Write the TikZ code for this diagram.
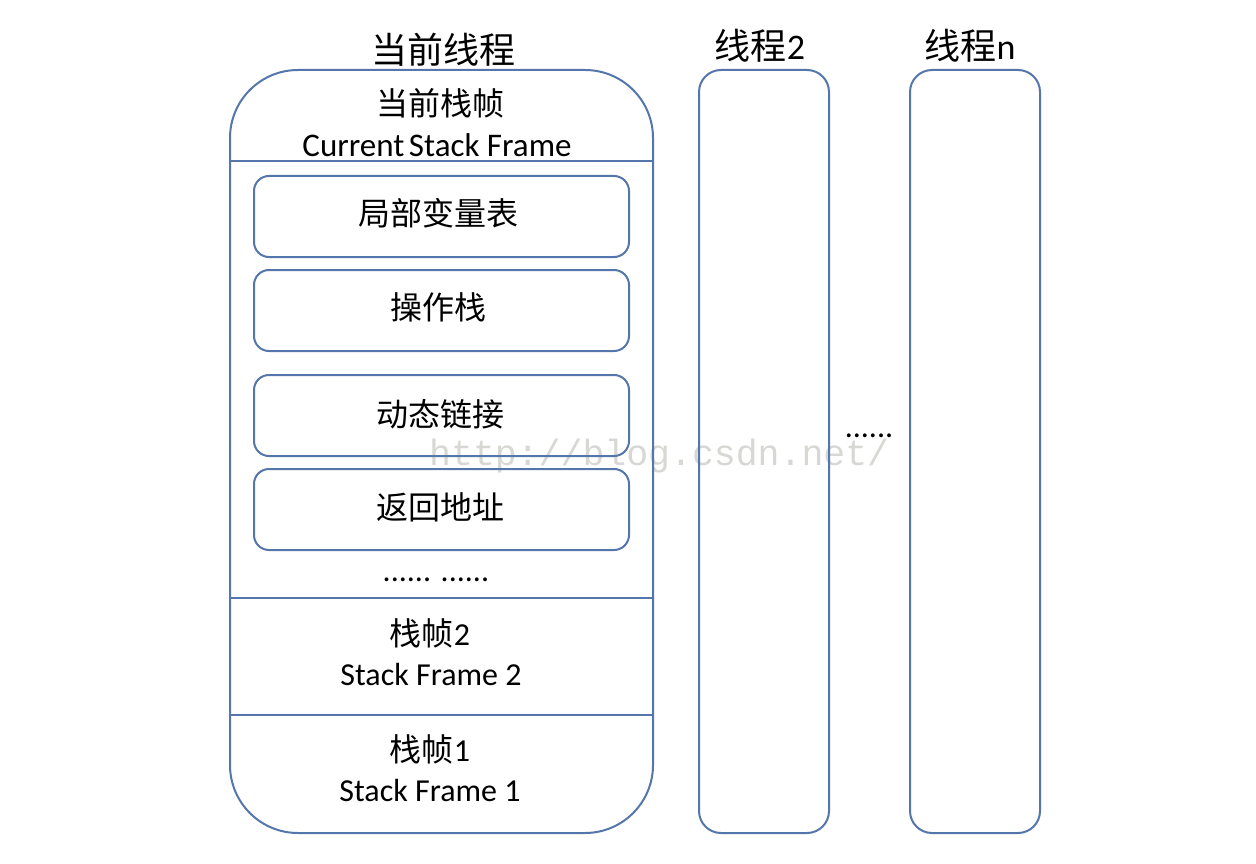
\documentclass[tikz,border=0pt]{standalone}
\usepackage{fontspec}
\setmainfont{Carlito}
\newfontfamily\cjk{Noto Sans CJK SC}
\newfontfamily\wmfont{Liberation Mono}
\definecolor{boxline}{RGB}{84,118,170}
\definecolor{wmgray}{RGB}{215,215,212}
\tikzset{
  outerbox/.style={draw=boxline, line width=2pt, rectangle, inner sep=0pt},
  innerbox/.style={draw=boxline, line width=2pt, rectangle, rounded corners=15pt,
    minimum width=375pt, minimum height=81pt, inner sep=0pt},
  sepline/.style={draw=boxline, line width=2pt},
  cjktext/.style={anchor=base, inner sep=0pt, font=\cjk\fontsize{32}{36}\selectfont},
  cjktitle/.style={anchor=base, inner sep=0pt, font=\cjk\fontsize{36}{40}\selectfont},
  entext/.style={anchor=base, inner sep=0pt, font=\fontsize{32}{36}\selectfont},
}
\begin{document}
\begin{tikzpicture}[x=1pt,y=-1pt]
\useasboundingbox (0,0) rectangle (1256,864);
% watermark
\node[anchor=base west, inner sep=0pt, text=wmgray, font=\wmfont\fontsize{36.5}{40}\selectfont] (wm) at (429,465) {http://blog.csdn.net/};
% main thread box
\node[outerbox, rounded corners=68pt, minimum width=423pt, minimum height=763pt] (main) at (441.5,451.5) {};
\coordinate (s1l) at (230,161); \coordinate (s1r) at (653,161);
\coordinate (s2l) at (230,598); \coordinate (s2r) at (653,598);
\coordinate (s3l) at (230,715); \coordinate (s3r) at (653,715);
\draw[sepline] (s1l) -- (s1r);
\draw[sepline] (s2l) -- (s2r);
\draw[sepline] (s3l) -- (s3r);
% other threads
\node[outerbox, rounded corners=22pt, minimum width=130pt, minimum height=763pt] (t2) at (764,451.5) {};
\node[outerbox, rounded corners=22pt, minimum width=130pt, minimum height=763pt] (tn) at (975,451.5) {};
% titles
\node[cjktitle] (title1) at (443,64) {当前线程};
\node[cjktitle] (title2) at (760,60) {线程{\fontspec{Carlito}2}};
\node[cjktitle] (title3) at (970,60) {线程{\fontspec{Carlito}n}};
% header
\node[cjktext] (cur) at (440,116) {当前栈帧};
\node[entext, font=\fontsize{33}{36}\selectfont] (curen) at (437,157) {Current\hspace{-3pt} Stack Frame};
% inner boxes
\node[innerbox] (b1) at (441.5,216.5) {};
\node[innerbox] (b2) at (441.5,310.5) {};
\node[innerbox] (b3) at (441.5,415.5) {};
\node[innerbox] (b4) at (441.5,509.5) {};
\node[cjktext] (l1) at (438,225) {局部变量表};
\node[cjktext] (l2) at (438,319) {操作栈};
\node[cjktext] (l3) at (440,426) {动态链接};
\node[cjktext] (l4) at (440,519) {返回地址};
\node[entext] (dots1) at (436,581) {...... ......};
% stack frames
\node[cjktext] (f2) at (430,645) {栈帧{\fontspec{Carlito}2}};
\node[entext] (f2en) at (431,685) {Stack Frame 2};
\node[cjktext] (f1) at (430,761) {栈帧{\fontspec{Carlito}1}};
\node[entext] (f1en) at (430,801) {Stack Frame 1};
% between threads
\node[entext] (dots2) at (869,437) {......};
\end{tikzpicture}
\end{document}
